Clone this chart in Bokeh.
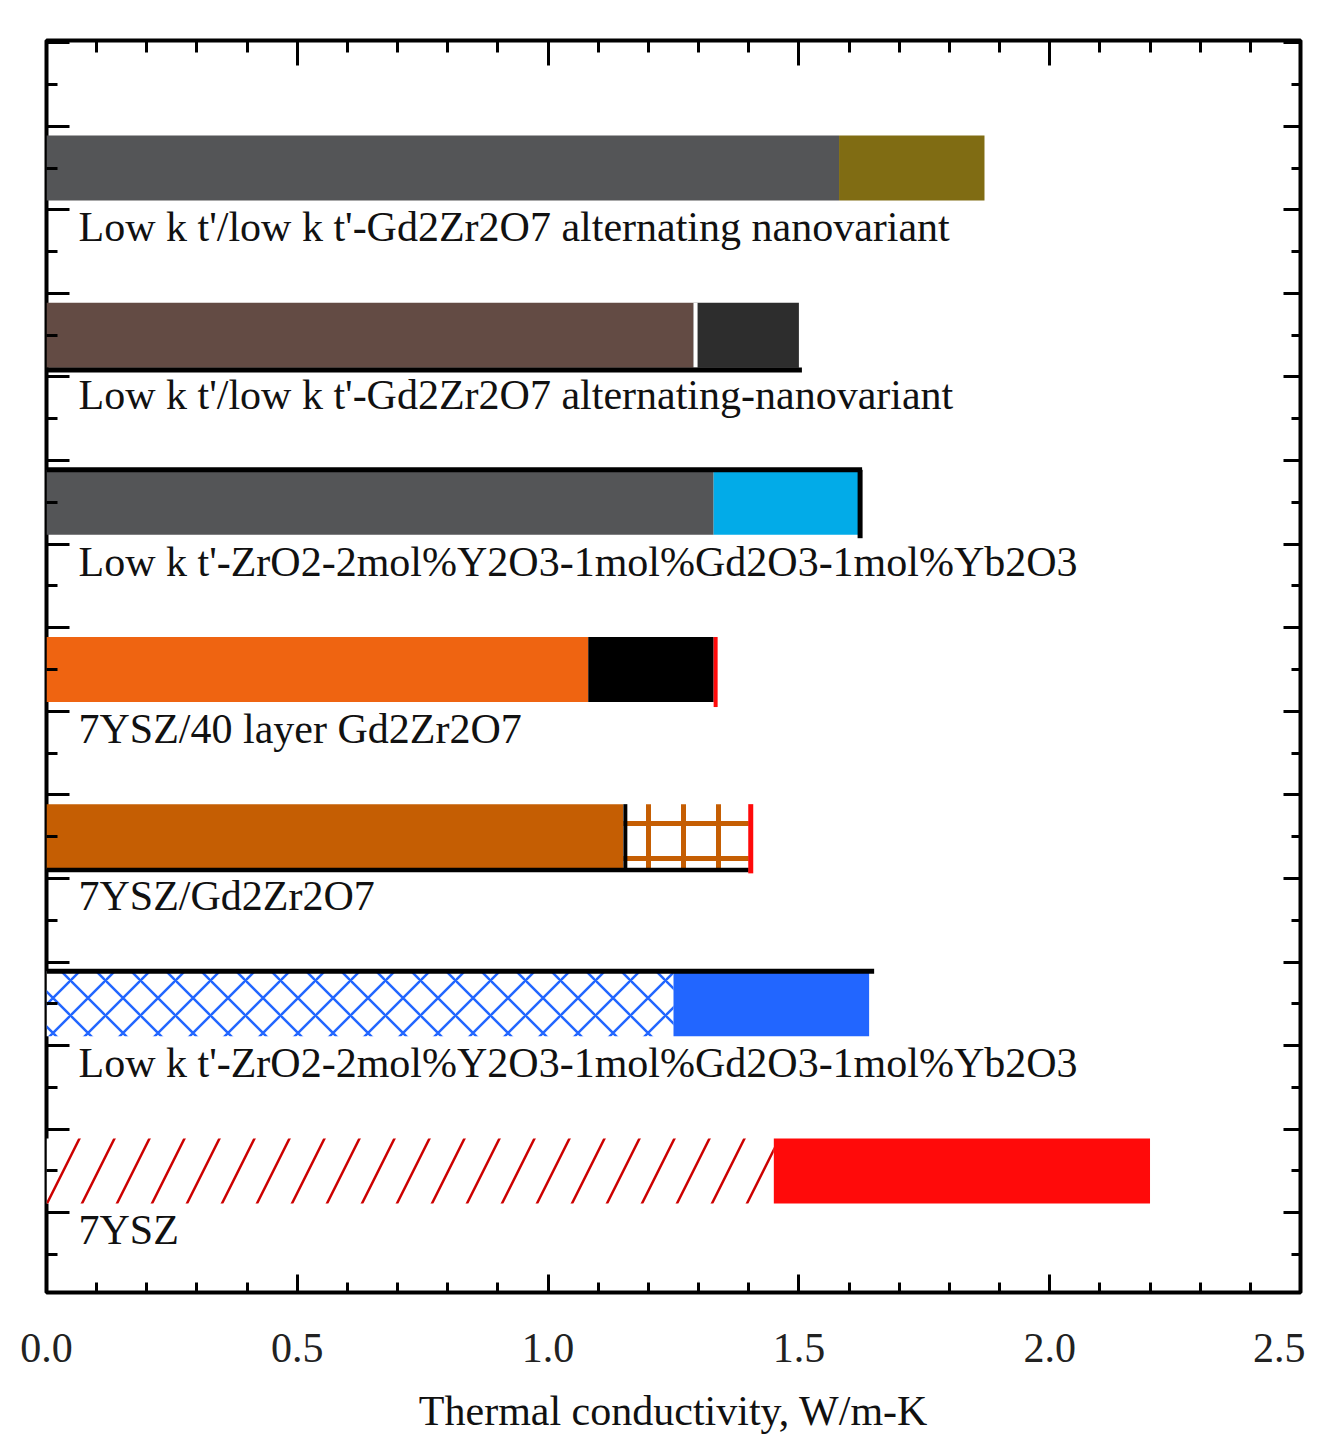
import numpy as np
from bokeh.plotting import figure
from bokeh.models import (ColumnDataSource, Range1d, LinearAxis, FixedTicker,
                          PrintfTickFormatter, CustomJSTickFormatter)
from bokeh.core.properties import value
from bokeh.embed import file_html
from bokeh.resources import INLINE

# ---------------- data (bottom row first) ----------------
labels = [
    "7YSZ",
    "Low k t'-ZrO2-2mol%Y2O3-1mol%Gd2O3-1mol%Yb2O3",
    "7YSZ/Gd2Zr2O7",
    "7YSZ/40 layer Gd2Zr2O7",
    "Low k t'-ZrO2-2mol%Y2O3-1mol%Gd2O3-1mol%Yb2O3",
    "Low k t'/low k t'-Gd2Zr2O7 alternating-nanovariant",
    "Low k t'/low k t'-Gd2Zr2O7 alternating nanovariant",
]
row_pos = [1, 2, 3, 4, 5, 6, 7]
first_part = [1.45, 1.25, 1.15, 1.08, 1.33, 1.29, 1.58]
total_value = [2.20, 1.64, 1.40, 1.33, 1.62, 1.50, 1.87]
x_tick_values = [0.0, 0.5, 1.0, 1.5, 2.0, 2.5]
x_title = "Thermal conductivity, W/m-K"

# ---------------- styles ----------------
first_fill = ["white", "white", "#c55e03", "#ef6411", "#545557", "#634b44", "#545557"]
first_hatch = ["/", "x", " ", " ", " ", " ", " "]
first_hatch_color = ["#cc0000", "#2266ff", "#c55e03", "#ef6411", "#545557", "#634b44", "#545557"]
first_hatch_weight = [2.5, 2.5, 1, 1, 1, 1, 1]
first_hatch_scale = [70, 35, 35, 35, 35, 35, 35]
second_fill = ["#ff0a0a", "#2266ff", "white", "black", "#02abe8", "#2d2d2d", "#806c13"]
second_hatch = [" ", " ", "+", " ", " ", " ", " "]
second_hatch_color = ["#ff0a0a", "#2266ff", "#c55e03", "black", "#02abe8", "#2d2d2d", "#806c13"]
second_hatch_weight = [1, 1, 5, 1, 1, 1, 1]
second_hatch_scale = [35, 35, 35, 35, 35, 35, 35]

FONT = "Liberation Serif"
bar_h = 0.389
half = bar_h / 2

p = figure(width=1305, height=1436,
           x_range=Range1d(0, 2.5), y_range=Range1d(0.273, 7.763),
           output_backend="svg", toolbar_location=None,
           min_border_left=46, min_border_right=5,
           min_border_top=40, min_border_bottom=144,
           x_axis_location="below", y_axis_location="left")
p.grid.visible = False
p.background_fill_color = "white"
p.border_fill_color = "white"
p.outline_line_color = "black"
p.outline_line_width = 4

src1 = ColumnDataSource(dict(y=row_pos, left=[0] * 7, right=first_part,
                             fill=first_fill, hp=first_hatch, hc=first_hatch_color,
                             hw=first_hatch_weight, hs=first_hatch_scale))
src2 = ColumnDataSource(dict(y=row_pos, left=first_part, right=total_value,
                             fill=second_fill, hp=second_hatch, hc=second_hatch_color,
                             hw=second_hatch_weight, hs=second_hatch_scale))
for src in (src1, src2):
    p.hbar(y="y", left="left", right="right", height=bar_h, source=src,
           fill_color="fill", line_color=None,
           hatch_pattern="hp", hatch_color="hc", hatch_weight="hw", hatch_scale="hs")

# ---------------- decorations (edges of some bars) ----------------
def seg(x0, y0, x1, y1, color, w):
    p.segment(x0=[x0], y0=[y0], x1=[x1], y1=[y1], line_color=color, line_width=w)

# row 6: white gap + black base line
r = row_pos[5]
seg(first_part[5] + 0.004, r - half, first_part[5] + 0.004, r + half, "white", 4)
seg(0, r - half - 0.013, total_value[5] + 0.006, r - half - 0.013, "black", 5)
# row 5: black top + right edge
r = row_pos[4]
seg(0, r + half, total_value[4] + 0.006, r + half, "black", 5)
seg(total_value[4] + 0.002, r + half, total_value[4] + 0.002, r - half - 0.02, "black", 5)
# row 4: red end marker
r = row_pos[3]
seg(total_value[3] + 0.004, r + half, total_value[3] + 0.004, r - half - 0.03, "#ff0a0a", 4)
# row 3: black divider, red end marker, black base line
r = row_pos[2]
seg(first_part[2] + 0.004, r + half, first_part[2] + 0.004, r - half, "black", 4)
seg(0, r - half - 0.005, total_value[2], r - half - 0.005, "black", 4.5)
seg(total_value[2] + 0.004, r + half, total_value[2] + 0.004, r - half - 0.025, "#ff0a0a", 5)
# row 2: black top line
r = row_pos[1]
seg(0, r + half, total_value[1] + 0.01, r + half, "black", 5)

# ---------------- bar labels ----------------
p.text(x=[0] * 7, y=[v - 0.355 for v in row_pos], text=labels, x_offset=32,
       text_font=value(FONT), text_font_size="42px", text_color="#111111",
       text_align="left", text_baseline="alphabetic")

# ---------------- axes ----------------
blank = CustomJSTickFormatter(code="return ''")
x_minor = list(np.round(np.arange(0, 2.51, 0.1), 2))
y_major = list(np.arange(0.25, 7.8, 0.5))
y_minor = list(np.arange(0.5, 7.8, 0.5))

xb = p.xaxis[0]
xb.ticker = FixedTicker(ticks=x_tick_values, minor_ticks=x_minor)
xb.formatter = PrintfTickFormatter(format="%.1f")
xb.major_label_text_font = FONT
xb.major_label_text_font_size = "42px"
xb.major_label_text_color = "#222222"
xb.major_label_standoff = 41
xb.axis_label = x_title
xb.axis_label_text_font = FONT
xb.axis_label_text_font_size = "42px"
xb.axis_label_text_font_style = "normal"
xb.axis_label_text_color = "#111111"
xb.axis_label_standoff = 23
xb.major_tick_in, xb.major_tick_out = 18, 0
xb.minor_tick_in, xb.minor_tick_out = 10, 0

xa = LinearAxis(ticker=FixedTicker(ticks=x_tick_values, minor_ticks=x_minor),
                formatter=blank, major_label_standoff=0)
xa.major_tick_in, xa.major_tick_out = 25, 0
xa.minor_tick_in, xa.minor_tick_out = 12, 0
p.add_layout(xa, "above")

yl = p.yaxis[0]
yl.ticker = FixedTicker(ticks=y_major, minor_ticks=y_minor)
yl.formatter = blank
yl.major_label_standoff = 0
yl.major_tick_in, yl.major_tick_out = 23, 0
yl.minor_tick_in, yl.minor_tick_out = 11, 0

yr = LinearAxis(ticker=FixedTicker(ticks=y_major, minor_ticks=y_minor),
                formatter=blank, major_label_standoff=0)
yr.major_tick_in, yr.major_tick_out = 17, 0
yr.minor_tick_in, yr.minor_tick_out = 9, 0
p.add_layout(yr, "right")

for ax in (xb, xa, yl, yr):
    ax.axis_line_color = None
    ax.major_tick_line_width = 3
    ax.minor_tick_line_width = 3
    ax.major_tick_line_color = "black"
    ax.minor_tick_line_color = "black"

open("out.html", "w").write(file_html(p, INLINE))
